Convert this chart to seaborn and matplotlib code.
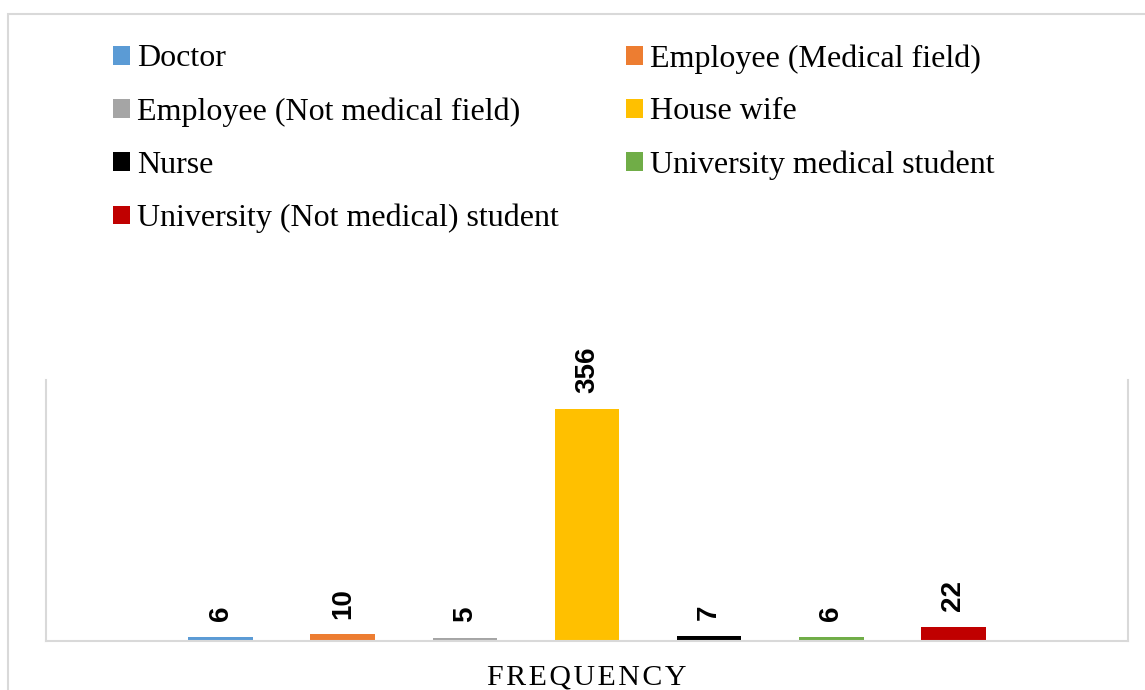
import matplotlib
matplotlib.use("Agg")
import matplotlib.pyplot as plt
import seaborn as sns
import pandas as pd
from matplotlib.patches import Rectangle

# data
groups = ["Doctor", "Employee (Medical field)", "Employee (Not medical field)",
          "House wife", "Nurse", "University medical student",
          "University (Not medical) student"]
counts = [6, 10, 5, 356, 7, 6, 22]
colors = ["#5B9BD5", "#ED7D31", "#A5A5A5", "#FFC000", "#000000", "#70AD47", "#C00000"]
category = "FREQUENCY"

df = pd.DataFrame({"cat": [category] * len(groups), "group": groups, "count": counts})

sns.set_style("white")
plt.rcParams["text.color"] = "black"
fig = plt.figure(figsize=(11.45, 6.9), dpi=100)
ax = fig.add_axes([46 / 1145, 49 / 690, 1082 / 1145, 261 / 690])

sns.barplot(data=df, x="cat", y="count", hue="group", hue_order=groups,
            palette=colors, width=0.79, gap=0.47, ax=ax, legend=False,
            saturation=1, errorbar=None, linewidth=0)

ax.set_ylim(0, 400)
ax.set_xlim(-0.5, 0.5)
ax.set_yticks([])
ax.set_ylabel("")
ax.set_xlabel("")
ax.tick_params(axis="x", length=0, pad=17, labelcolor="black")
ax.set_xticks([0])
# small hair spaces to imitate the letter spacing of the original
ax.set_xticklabels(["\u200a".join(category)], fontfamily="Liberation Serif", fontsize=21.5)
for side in ["left", "right", "bottom"]:
    ax.spines[side].set_color("#d9d9d9")
    ax.spines[side].set_linewidth(1.5)
ax.spines["top"].set_visible(False)

for cont in ax.containers:
    ax.bar_label(cont, rotation=90, padding=11.5, fontsize=20,
                 fontweight="bold", fontfamily="Liberation Sans", color="black")

# legend, row-major order in two columns
handles = [Rectangle((0, 0), 1, 1, facecolor=c, edgecolor="none") for c in colors]
order = [0, 2, 4, 6, 1, 3, 5]
fig.legend([handles[i] for i in order], [groups[i] for i in order],
           ncol=2, loc="upper left", bbox_to_anchor=(113 / 1145, 1 - 44 / 690),
           frameon=False, borderpad=0, borderaxespad=0,
           prop={"family": "Liberation Serif", "size": 23},
           handlelength=0.53, handleheight=0.53, handletextpad=0.22,
           labelspacing=0.75, columnspacing=2.1)

# outer chart border
fig.patches.append(Rectangle((8 / 1145, -0.1), 1.2, 1.1 - 14 / 690,
                             transform=fig.transFigure, fill=False,
                             edgecolor="#d9d9d9", linewidth=1.5))

fig.savefig("out.png", dpi=100)
